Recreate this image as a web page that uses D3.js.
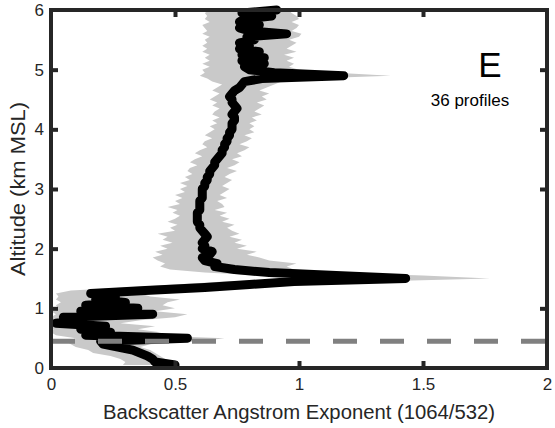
<!DOCTYPE html>
<html>
<head>
<meta charset="utf-8">
<script src="https://cdn.jsdelivr.net/npm/d3@7"></script>
<style>
  body { margin: 0; background: #fff; }
  svg { display: block; }
  text { font-family: "Liberation Sans", Arial, Helvetica, sans-serif; }
</style>
</head>
<body>
<svg id="chart" width="555" height="428"></svg>
<script>
// Altitude bins (km MSL)
const altitude = [
  0.05,0.10,0.15,0.20,0.25,0.30,0.35,0.40,0.45,0.50,
  0.55,0.60,0.65,0.70,0.75,0.80,0.85,0.90,0.95,1.00,
  1.05,1.10,1.15,1.20,1.25,1.30,1.35,1.40,1.45,1.50,
  1.55,1.60,1.65,1.70,1.75,1.80,1.85,1.90,1.95,2.00,
  2.05,2.10,2.15,2.20,2.25,2.30,2.35,2.40,2.45,2.50,
  2.55,2.60,2.65,2.70,2.75,2.80,2.85,2.90,2.95,3.00,
  3.05,3.10,3.15,3.20,3.25,3.30,3.35,3.40,3.45,3.50,
  3.55,3.60,3.65,3.70,3.75,3.80,3.85,3.90,3.95,4.00,
  4.05,4.10,4.15,4.20,4.25,4.30,4.35,4.40,4.45,4.50,
  4.55,4.60,4.65,4.70,4.75,4.80,4.85,4.90,4.95,5.00,
  5.05,5.10,5.15,5.20,5.25,5.30,5.35,5.40,5.45,5.50,
  5.55,5.60,5.65,5.70,5.75,5.80,5.85,5.90,5.95,6.00
];

// Mean backscatter Angstrom exponent over all profiles
const meanAE = [
  0.50,0.42,0.41,0.39,0.36,0.33,0.27,0.21,0.20,0.55,
  0.14,0.24,0.12,0.22,0.02,0.12,0.05,0.41,0.12,0.35,
  0.14,0.30,0.18,0.26,0.16,0.38,0.62,0.80,0.98,1.43,
  1.15,0.88,0.74,0.66,0.67,0.62,0.61,0.64,0.65,0.61,
  0.62,0.61,0.62,0.63,0.62,0.61,0.60,0.60,0.59,0.59,
  0.59,0.59,0.60,0.60,0.60,0.60,0.61,0.61,0.61,0.61,
  0.62,0.62,0.63,0.63,0.64,0.64,0.65,0.66,0.66,0.67,
  0.68,0.69,0.69,0.70,0.70,0.71,0.71,0.72,0.72,0.73,
  0.73,0.73,0.74,0.74,0.73,0.74,0.75,0.74,0.73,0.73,
  0.72,0.73,0.74,0.76,0.77,0.78,0.85,1.18,0.90,0.80,
  0.78,0.86,0.77,0.86,0.77,0.84,0.76,0.80,0.76,0.82,
  0.79,0.95,0.80,0.76,0.84,0.76,0.78,0.89,0.77,0.91
];

// Lower edge of the profile spread
const lowAE = [
  0.29,0.30,0.28,0.24,0.17,0.15,0.10,0.08,0.06,0.10,
  0.02,0.00,0.01,0.00,0.00,0.00,0.00,0.02,0.00,0.03,
  0.02,0.04,0.02,0.03,0.02,0.08,0.30,0.50,0.70,1.05,
  0.85,0.62,0.48,0.44,0.46,0.43,0.41,0.45,0.42,0.47,
  0.44,0.49,0.45,0.47,0.43,0.50,0.48,0.51,0.47,0.50,
  0.52,0.49,0.51,0.47,0.52,0.50,0.53,0.50,0.54,0.52,
  0.55,0.52,0.56,0.54,0.57,0.55,0.56,0.59,0.56,0.58,
  0.61,0.58,0.60,0.63,0.61,0.62,0.65,0.62,0.64,0.66,
  0.64,0.67,0.65,0.68,0.65,0.66,0.68,0.65,0.67,0.64,
  0.66,0.68,0.65,0.67,0.69,0.65,0.63,0.60,0.62,0.61,
  0.64,0.61,0.64,0.62,0.64,0.61,0.63,0.61,0.63,0.62,
  0.64,0.61,0.63,0.62,0.61,0.64,0.62,0.63,0.62,0.64
];

// Upper edge of the profile spread
const highAE = [
  0.52,0.50,0.46,0.44,0.42,0.40,0.36,0.40,0.60,0.70,
  0.38,0.44,0.35,0.42,0.28,0.36,0.50,0.55,0.42,0.50,
  0.45,0.47,0.52,0.40,0.36,0.55,0.85,1.05,1.30,1.77,
  1.50,1.15,0.98,0.95,0.99,0.88,0.84,0.79,0.83,0.75,
  0.79,0.74,0.77,0.72,0.76,0.73,0.71,0.74,0.69,0.72,
  0.68,0.71,0.66,0.70,0.69,0.67,0.71,0.68,0.70,0.72,
  0.69,0.71,0.73,0.70,0.72,0.75,0.71,0.74,0.76,0.73,
  0.77,0.75,0.78,0.80,0.76,0.79,0.81,0.78,0.82,0.80,
  0.82,0.80,0.83,0.81,0.85,0.82,0.84,0.86,0.83,0.87,
  0.85,0.88,0.84,0.87,0.90,0.93,1.05,1.37,1.15,1.00,
  0.96,0.98,0.95,0.98,0.94,0.99,0.95,0.97,0.99,0.96,
  1.00,1.01,0.97,0.99,1.00,0.97,1.00,0.99,0.97,0.96
];

const xTicks = [0, 0.5, 1, 1.5, 2];
const yTicks = [0, 1, 2, 3, 4, 5, 6];
const refAltitude = 0.45;   // reference level drawn as a dashed line
const panelLetter = "E";
const profileNote = "36 profiles";

(function draw() {
  const rows = altitude.map((a, i) => ({ alt: a, mean: meanAE[i], lo: lowAE[i], hi: highAE[i] }));

  const svg = d3.select("#chart");
  const plotLeft = 51, plotRight = 547, plotTop = 10, plotBottom = 368;
  const x = d3.scaleLinear().domain([0, 2]).range([plotLeft, plotRight]);
  const y = d3.scaleLinear().domain([0, 6]).range([plotBottom, plotTop]);
  const axisColor = "#262626";
  const plain = d3.format("");

  // spread of individual profiles
  svg.append("path")
    .datum(rows)
    .attr("fill", "#c9c9c9")
    .attr("d", d3.area()
      .y(d => y(d.alt))
      .x0(d => x(d.lo))
      .x1(d => x(d.hi)));

  // mean profile
  svg.append("path")
    .datum(rows)
    .attr("fill", "none")
    .attr("stroke", "#000")
    .attr("stroke-width", 9)
    .attr("stroke-linejoin", "round")
    .attr("stroke-linecap", "round")
    .attr("d", d3.line().x(d => x(d.mean)).y(d => y(d.alt)));

  // reference altitude
  svg.append("line")
    .attr("x1", x(0)).attr("x2", x(2))
    .attr("y1", y(refAltitude)).attr("y2", y(refAltitude))
    .attr("stroke", "#808080")
    .attr("stroke-width", 5)
    .attr("stroke-dasharray", "24,23");

  // axes
  function styleAxis(g, showLabels) {
    g.select(".domain").remove();
    g.selectAll(".tick line").attr("stroke", axisColor).attr("stroke-width", 4);
    g.selectAll(".tick text").attr("fill", axisColor).style("font-size", "17px");
    if (!showLabels) g.selectAll(".tick text").remove();
  }
  const innerTicks = t => t.filter(v => v !== 0 && v !== 2 && v !== 6);

  svg.append("g").attr("transform", `translate(0,${plotBottom})`)
    .call(d3.axisBottom(x).tickValues(xTicks).tickSize(-7).tickPadding(10).tickFormat(plain))
    .call(g => { styleAxis(g, true); g.selectAll(".tick line").filter(d => d === 0 || d === 2).remove(); });
  svg.append("g").attr("transform", `translate(0,${plotTop})`)
    .call(d3.axisTop(x).tickValues(innerTicks(xTicks)).tickSize(-7))
    .call(g => styleAxis(g, false));
  svg.append("g").attr("transform", `translate(${plotLeft},0)`)
    .call(d3.axisLeft(y).tickValues(yTicks).tickSize(-7).tickPadding(7).tickFormat(plain))
    .call(g => { styleAxis(g, true); g.selectAll(".tick line").filter(d => d === 0 || d === 6).remove(); });
  svg.append("g").attr("transform", `translate(${plotRight},0)`)
    .call(d3.axisRight(y).tickValues(innerTicks(yTicks)).tickSize(-7))
    .call(g => styleAxis(g, false));

  // frame
  svg.append("rect")
    .attr("x", plotLeft).attr("y", plotTop)
    .attr("width", plotRight - plotLeft).attr("height", plotBottom - plotTop)
    .attr("fill", "none")
    .attr("stroke", axisColor)
    .attr("stroke-width", 4);

  // axis titles
  svg.append("text")
    .attr("x", (plotLeft + plotRight) / 2).attr("y", 419)
    .attr("text-anchor", "middle")
    .attr("fill", axisColor)
    .style("font-size", "20px")
    .attr("textLength", 392).attr("lengthAdjust", "spacingAndGlyphs")
    .text("Backscatter Angstrom Exponent (1064/532)");

  svg.append("text")
    .attr("transform", `translate(25,${(plotTop + plotBottom) / 2}) rotate(-90)`)
    .attr("text-anchor", "middle")
    .attr("fill", axisColor)
    .style("font-size", "20px")
    .attr("textLength", 174).attr("lengthAdjust", "spacingAndGlyphs")
    .text("Altitude (km MSL)");

  // panel annotations
  svg.append("text")
    .attr("x", 490).attr("y", 77)
    .attr("text-anchor", "middle")
    .attr("fill", "#000")
    .style("font-size", "35px")
    .text(panelLetter);

  svg.append("text")
    .attr("x", 470).attr("y", 106)
    .attr("text-anchor", "middle")
    .attr("fill", "#000")
    .style("font-size", "17px")
    .text(profileNote);
})();
</script>
</body>
</html>
